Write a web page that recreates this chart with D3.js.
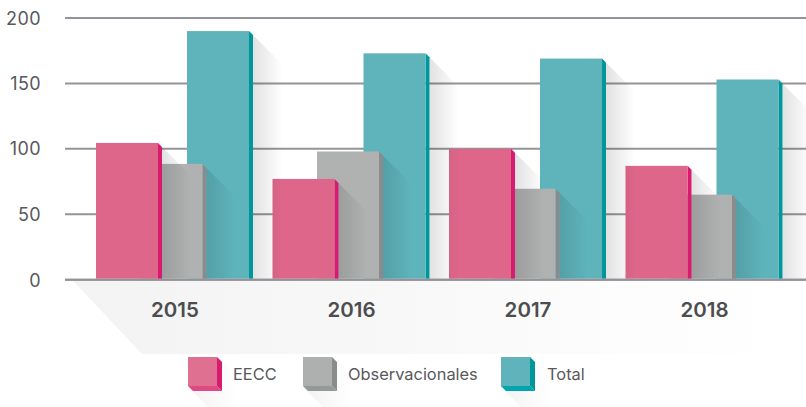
<!DOCTYPE html>
<html>
<head>
<meta charset="utf-8">
<script src="https://cdn.jsdelivr.net/npm/d3@7"></script>
<style>
  html, body { margin: 0; padding: 0; background: #fff; overflow: hidden; }
  text { font-family: Inter, "Open Sans", sans-serif; }
</style>
</head>
<body>
<div id="chart"></div>
<script>
var years = ["2015", "2016", "2017", "2018"];
var seriesNames = ["Total", "Observacionales", "EECC"]; // orden de dibujo
var legendNames = ["EECC", "Observacionales", "Total"];
var eecc = [104.5, 77, 100, 87];
var observacionales = [88.5, 98, 69.5, 65];
var total = [190, 173, 169, 153];
var yTicks = [0, 50, 100, 150, 200];

var valuesBySeries = { "EECC": eecc, "Observacionales": observacionales, "Total": total };
var offsets = { "EECC": 0, "Observacionales": 44.5, "Total": 91 };
var front = { "EECC": "#dd668a", "Observacionales": "#b0b2b1", "Total": "#5fb4bc" };
var side = { "EECC": "#d81b6e", "Observacionales": "#8a8b8d", "Total": "#00979c" };
var legendFront = { "EECC": "#e07092", "Observacionales": "#aeb0af", "Total": "#60b3ba" };
var legendBottom = { "EECC": "#df4a84", "Observacionales": "#96999a", "Total": "#00a6ab" };
var legendX = { "EECC": 188, "Observacionales": 303, "Total": 501 };
var legendTextX = { "EECC": 233, "Observacionales": 348, "Total": 547 };

var width = 806, height = 407;
var barW = 62, depth = 4, shadowW = 29;

var svg = d3.select("#chart").append("svg").attr("width", width).attr("height", height);

var defs = svg.append("defs");
var grad = defs.append("linearGradient").attr("id", "shadow");
grad.append("stop").attr("offset", "0%").attr("stop-color", "#000").attr("stop-opacity", 0.115);
grad.append("stop").attr("offset", "100%").attr("stop-color", "#000").attr("stop-opacity", 0);

var floor = defs.append("linearGradient").attr("id", "floor");
floor.append("stop").attr("offset", "0%").attr("stop-color", "#f3f3f3");
floor.append("stop").attr("offset", "45%").attr("stop-color", "#f8f8f8");
floor.append("stop").attr("offset", "78%").attr("stop-color", "#fdfdfd");
floor.append("stop").attr("offset", "100%").attr("stop-color", "#ffffff");

var y = d3.scaleLinear().domain([0, 200]).range([279.7, 18]);
var x = d3.scalePoint().domain(years).range([96, 625.5]);

// sombra del suelo
svg.append("path")
  .attr("d", "M72," + y(0) + "L806," + y(0) + "L806,354L142,354Z")
  .attr("fill", "url(#floor)");

// lineas de la grilla
svg.selectAll(".grid").data(yTicks).enter().append("line")
  .attr("class", "grid")
  .attr("x1", 65).attr("x2", width)
  .attr("y1", function(d) { return y(d); })
  .attr("y2", function(d) { return y(d); })
  .attr("stroke", "#949399").attr("stroke-width", 2);

svg.selectAll(".tick").data(yTicks).enter().append("text")
  .attr("class", "tick")
  .attr("x", 41).attr("text-anchor", "end")
  .attr("y", function(d) { return y(d) + (d === 0 ? 7.5 : 6.5); })
  .attr("font-size", "18px").attr("letter-spacing", "0.4px").attr("fill", "#58595b")
  .text(function(d) { return d; });

// de derecha a izquierda: cada sombra cae sobre lo ya dibujado
var groups = svg.selectAll(".year").data(years.slice().reverse()).enter().append("g").attr("class", "year");

groups.each(function(year) {
  var g = d3.select(this);
  var i = years.indexOf(year);
  seriesNames.forEach(function(name) {
    var left = x(year) + offsets[name];
    var right = left + barW;
    var top = y(valuesBySeries[name][i]);
    var base = y(0) - 1;

    g.append("path")
      .attr("d", "M" + (right + depth) + "," + (top + depth) +
        "L" + (right + depth + shadowW) + "," + (top + depth + shadowW) +
        "L" + (right + depth + shadowW) + "," + base +
        "L" + (right + depth) + "," + base + "Z")
      .attr("fill", "url(#shadow)");

    g.append("path")
      .attr("d", "M" + right + "," + top + "L" + (right + depth) + "," + (top + depth) +
        "L" + (right + depth) + "," + base + "L" + right + "," + base + "Z")
      .attr("fill", side[name]);

    g.append("rect")
      .attr("x", left).attr("y", top)
      .attr("width", barW).attr("height", base - top)
      .attr("fill", front[name]);
  });
});

// linea base encima de las barras
svg.append("line")
  .attr("x1", 65).attr("x2", width)
  .attr("y1", y(0)).attr("y2", y(0))
  .attr("stroke", "#949399").attr("stroke-width", 2);

svg.selectAll(".year-label").data(years).enter().append("text")
  .attr("class", "year-label")
  .attr("x", function(d) { return x(d) + 79; })
  .attr("y", 317)
  .attr("text-anchor", "middle")
  .attr("font-size", "20.5px").attr("font-weight", 600).attr("fill", "#4d4d4f")
  .text(function(d) { return d; });

// leyenda
var legend = svg.selectAll(".legend").data(legendNames).enter().append("g").attr("class", "legend");

legend.each(function(name) {
  var g = d3.select(this);
  var lx = legendX[name], ly = 357, s = 29, d = 5;
  g.append("path")
    .attr("d", "M" + (lx + s + d) + "," + (ly + d) + "L" + (lx + s + d + 16) + "," + (ly + d + 16) +
      "L" + (lx + s + d + 16) + ",407L" + (lx + 20) + ",407L" + lx + "," + (ly + s + 1) + "Z")
    .attr("fill", "url(#shadow)").attr("opacity", 0.45);
  g.append("path")
    .attr("d", "M" + lx + "," + (ly + s) + "L" + (lx + d) + "," + (ly + s + d) +
      "L" + (lx + s + d) + "," + (ly + s + d) + "L" + (lx + s) + "," + (ly + s) + "Z")
    .attr("fill", legendBottom[name]);
  g.append("path")
    .attr("d", "M" + (lx + s) + "," + ly + "L" + (lx + s + d) + "," + (ly + d) +
      "L" + (lx + s + d) + "," + (ly + s + d) + "L" + (lx + s) + "," + (ly + s) + "Z")
    .attr("fill", side[name]);
  g.append("rect").attr("x", lx).attr("y", ly).attr("width", s).attr("height", s)
    .attr("fill", legendFront[name]);
  g.append("text")
    .attr("x", legendTextX[name]).attr("y", 380)
    .attr("font-size", "16.4px").attr("fill", "#58595b")
    .text(name);
});
</script>
</body>
</html>
